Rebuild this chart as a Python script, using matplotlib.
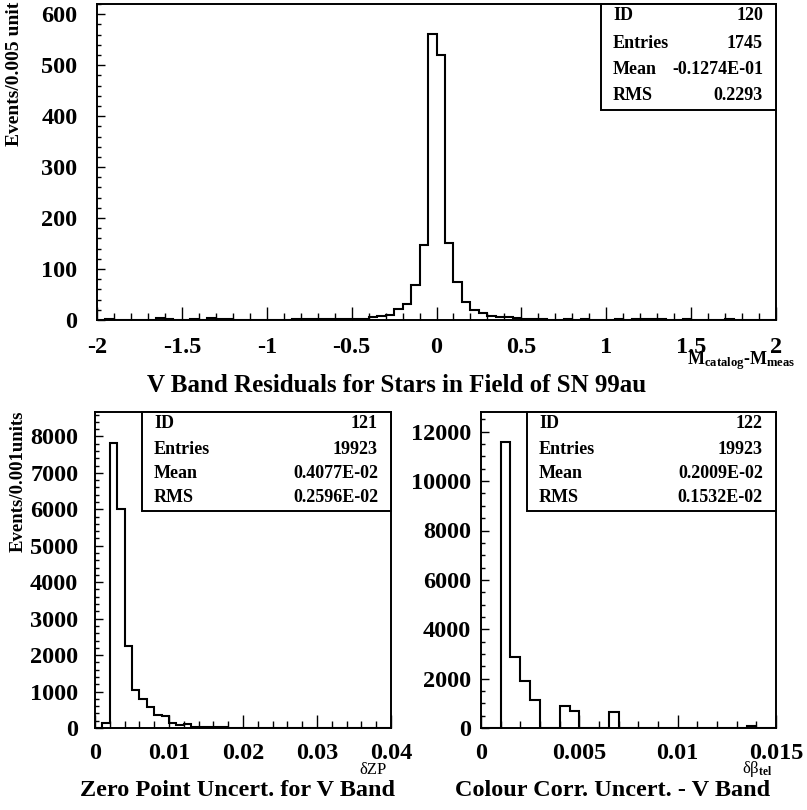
import numpy as np
import matplotlib
matplotlib.use("Agg")
import matplotlib.pyplot as plt
from matplotlib.patches import Rectangle
from matplotlib.ticker import MultipleLocator, FuncFormatter

plt.rcParams['font.family'] = ['Liberation Serif', 'DejaVu Serif']
plt.rcParams['font.weight'] = 'bold'
plt.rcParams['axes.unicode_minus'] = False
plt.rcParams['mathtext.fontset'] = 'custom'
plt.rcParams['mathtext.rm'] = 'Liberation Serif:bold'
plt.rcParams['mathtext.it'] = 'Liberation Serif:bold'
plt.rcParams['mathtext.bf'] = 'Liberation Serif:bold'

W, H = 807, 810

# V band residuals, 80 bins from -2 to 2
resid_counts = [0, 1, 0, 0, 0, 0, 0, 4, 2, 0,
                0, 1, 0, 4, 2, 2, 0, 0, 0, 0,
                0, 0, 0, 1, 1, 1, 1, 1, 1, 1,
                1, 1, 5, 8, 10, 21, 31, 69, 147, 561,
                520, 151, 75, 36, 20, 13, 8, 5, 6, 3,
                2, 2, 2, 0, 0, 1, 0, 1, 0, 0,
                0, 1, 0, 1, 1, 1, 1, 0, 0, 1,
                0, 0, 0, 0, 1, 0, 0, 0, 0, 0]
resid_range = (-2.0, 2.0)

# zero point uncertainty, 40 bins from 0 to 0.04
zp_counts = [0, 137, 7830, 6015, 2250, 1050, 785, 575, 365, 320,
             137, 91, 100, 30, 25, 20, 18, 15, 12, 10,
             8, 8, 6, 5, 5, 4, 4, 3, 3, 2,
             2, 2, 1, 1, 1, 0, 0, 0, 2, 0]
zp_range = (0.0, 0.04)

# colour correction uncertainty, 30 bins from 0 to 0.015
cc_counts = [0, 0, 11570, 2880, 1890, 1150, 0, 0, 880, 675,
             0, 0, 0, 650, 0, 0, 0, 0, 0, 0,
             0, 0, 0, 0, 0, 0, 0, 80, 0, 0]
cc_range = (0.0, 0.015)

stats_120 = [("ID", "120"), ("Entries", "1745"), ("Mean", "-0.1274E-01"), ("RMS", "0.2293")]
stats_121 = [("ID", "121"), ("Entries", "19923"), ("Mean", "0.4077E-02"), ("RMS", "0.2596E-02")]
stats_122 = [("ID", "122"), ("Entries", "19923"), ("Mean", "0.2009E-02"), ("RMS", "0.1532E-02")]


def fx(x):
    return x / W


def fy(y):
    return 1 - y / H


def make_axes(fig, l, t, r, b):
    return fig.add_axes([fx(l), fy(b), fx(r) - fx(l), fy(t) - fy(b)])


def style(ax, xr, ylim, xmaj, xmin, ymaj, ymin, xpad, ypad):
    ax.set_xlim(*xr)
    ax.set_ylim(*ylim)
    ax.xaxis.set_major_locator(MultipleLocator(xmaj))
    ax.xaxis.set_minor_locator(MultipleLocator(xmin))
    ax.yaxis.set_major_locator(MultipleLocator(ymaj))
    ax.yaxis.set_minor_locator(MultipleLocator(ymin))
    fmt = FuncFormatter(lambda v, p: "%g" % round(v, 6))
    ax.xaxis.set_major_formatter(fmt)
    ax.yaxis.set_major_formatter(fmt)
    for s in ax.spines.values():
        s.set_linewidth(1.4)
    ax.tick_params(which='both', direction='in', top=False, right=False,
                   width=1.0, labelsize=17.5)
    ax.tick_params(axis='x', which='major', length=9.4, pad=xpad)
    ax.tick_params(axis='x', which='minor', length=5)
    ax.tick_params(axis='y', which='major', length=6, pad=ypad)
    ax.tick_params(axis='y', which='minor', length=3)
    for lab in ax.get_xticklabels() + ax.get_yticklabels():
        lab.set_fontweight('bold')


def stats_box(fig, l, t, r, b, rows, xl, xr, ys):
    fig.add_artist(Rectangle((fx(l), fy(b)), fx(r) - fx(l), fy(t) - fy(b),
                             transform=fig.transFigure, fill=True, facecolor='white',
                             edgecolor='black', linewidth=1.4, zorder=5))
    for (name, val), y in zip(rows, ys):
        fig.text(fx(xl), fy(y), name, ha='left', va='center', fontsize=13,
                 fontweight='bold', zorder=6)
        fig.text(fx(xr), fy(y), val, ha='right', va='center', fontsize=13,
                 fontweight='bold', zorder=6)


fig = plt.figure(figsize=(W / 100, H / 100), dpi=100)

# top panel
ax1 = make_axes(fig, 97, 4, 776, 320)
edges1 = np.linspace(resid_range[0], resid_range[1], len(resid_counts) + 1)
ax1.stairs(resid_counts, edges1, color='black', linewidth=1.5)
style(ax1, resid_range, (0, 620), 0.5, 0.1, 100, 20, 12, 14)
stats_box(fig, 601, 4, 776, 110, stats_120, 613, 763, [16, 43, 70, 96])
fig.text(fx(15), fy(2), "Events/0.005 unit", rotation=90, ha='center', va='top',
         fontsize=14, fontweight='bold')
fig.text(fx(795), fy(361), r"M$_{\mathrm{catalog}}$-M$_{\mathrm{meas}}$",
         ha='right', va='center', fontsize=13, fontweight='bold')
fig.text(fx(397), fy(386), "V Band Residuals for Stars in Field of SN 99au",
         ha='center', va='center', fontsize=18, fontweight='bold')

# bottom left panel
ax2 = make_axes(fig, 95, 412, 391, 728)
edges2 = np.linspace(zp_range[0], zp_range[1], len(zp_counts) + 1)
ax2.stairs(zp_counts, edges2, color='black', linewidth=1.5)
style(ax2, zp_range, (0, 8670), 0.01, 0.002, 1000, 200, 11, 12)
stats_box(fig, 142, 412, 391, 511, stats_121, 154, 378, [424, 449, 474, 498])
fig.text(fx(18), fy(410), "Events/0.001units", rotation=90, ha='center', va='top',
         fontsize=13.5, fontweight='bold')
fig.text(fx(373), fy(770), "δZP", ha='center', va='center', fontsize=12,
         fontweight='normal')
fig.text(fx(237), fy(790), "Zero Point Uncert. for V Band", ha='center', va='center',
         fontsize=17.5, fontweight='bold')

# bottom right panel
ax3 = make_axes(fig, 481, 412, 776, 728)
edges3 = np.linspace(cc_range[0], cc_range[1], len(cc_counts) + 1)
ax3.stairs(cc_counts, edges3, color='black', linewidth=1.5)
style(ax3, cc_range, (0, 12800), 0.005, 0.001, 2000, 500, 11, 7)
stats_box(fig, 527, 412, 776, 511, stats_122, 539, 763, [424, 449, 474, 498])
fig.text(fx(757), fy(769), r"δβ$_{\mathrm{tel}}$", ha='center', va='center',
         fontsize=12, fontweight='normal')
fig.text(fx(613), fy(790), "Colour Corr. Uncert. - V Band", ha='center', va='center',
         fontsize=17.5, fontweight='bold')

fig.savefig("out.png", dpi=100)
